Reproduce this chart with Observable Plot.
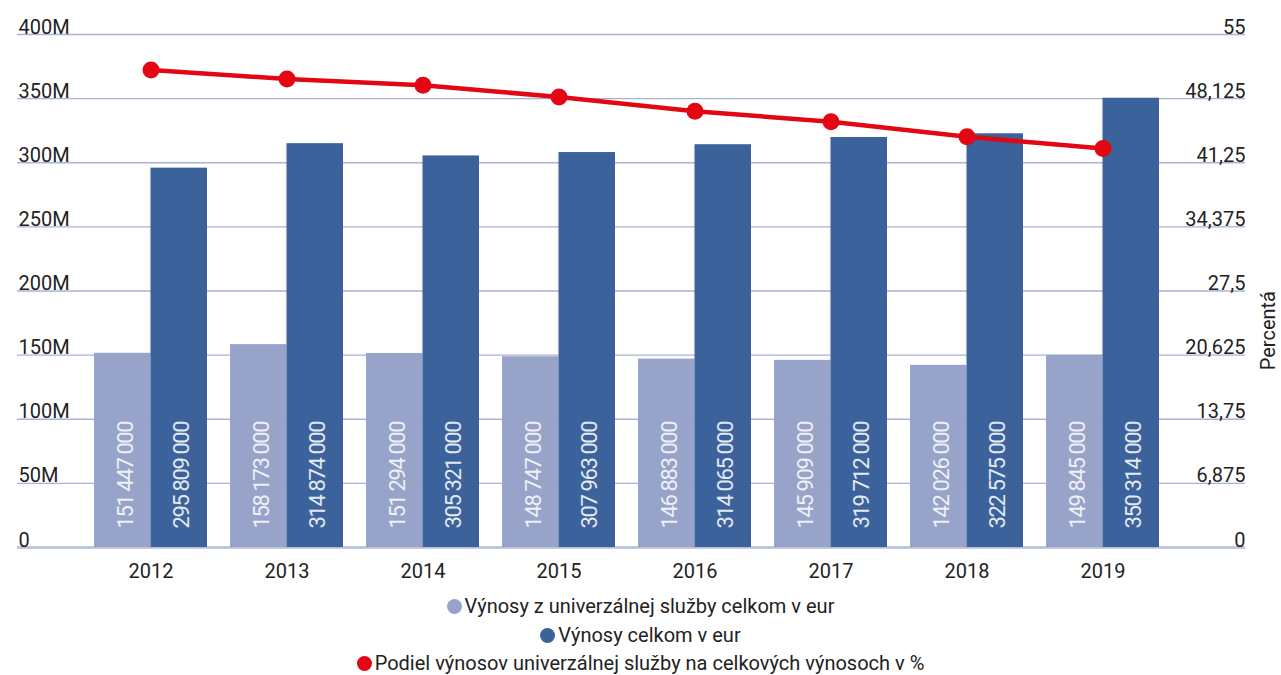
<!DOCTYPE html>
<html>
<head>
<meta charset="utf-8">
<script src="https://cdn.jsdelivr.net/npm/d3@7"></script>
<script src="https://cdn.jsdelivr.net/npm/@observablehq/plot@0.6"></script>
<style>
  html, body { margin: 0; padding: 0; background: #fff; }
  #chart { width: 1281px; }
  .legend { font-family: Roboto, sans-serif; font-size: 20px; color: #222; text-align: center; }
  .legend .row { height: 28.5px; line-height: 28.5px; white-space: nowrap; }
  .legend .sw { display: inline-block; width: 15px; height: 15px; border-radius: 50%; vertical-align: -1px; margin-right: 3px; }
  .barlabel text { letter-spacing: -1.4px; }
</style>
</head>
<body>
<div id="chart"></div>
<script>
// ---- data ----
const years = ["2012", "2013", "2014", "2015", "2016", "2017", "2018", "2019"];
const usRevenue = [151447000, 158173000, 151294000, 148747000, 146883000, 145909000, 142026000, 149845000];
const totalRevenue = [295809000, 314874000, 305321000, 307963000, 314065000, 319712000, 322575000, 350314000];
const sharePct = [51.2, 50.23, 49.55, 48.3, 46.77, 45.64, 44.03, 42.77];

const leftTicks = [0, 50e6, 100e6, 150e6, 200e6, 250e6, 300e6, 350e6, 400e6];
const leftTickLabels = ["0", "50M", "100M", "150M", "200M", "250M", "300M", "350M", "400M"];
const rightTicks = [0, 6.875, 13.75, 20.625, 27.5, 34.375, 41.25, 48.125, 55];
const rightTickLabels = ["0", "6,875", "13,75", "20,625", "27,5", "34,375", "41,25", "48,125", "55"];

const seriesNames = [
  "Výnosy z univerzálnej služby celkom v eur",
  "Výnosy celkom v eur",
  "Podiel výnosov univerzálnej služby na celkových výnosoch v %"
];
const colors = ["#97a3c8", "#3b629b", "#e30613"];

// ---- build ----
const yMax = 400e6, pMax = 55;
const toY = p => p * yMax / pMax;
const rows = years.map((y, i) => ({year: y, us: usRevenue[i], total: totalRevenue[i], pct: sharePct[i]}));
const fmt = d3.formatLocale({decimal: ",", thousands: " ", grouping: [3]}).format(",d");
const rightMap = new Map(rightTicks.map((t, i) => [toY(t), rightTickLabels[i]]));
const leftMap = new Map(leftTicks.map((t, i) => [t, leftTickLabels[i]]));

const W = 1281, H = 592;
const half = 56.5;

const chart = Plot.plot({
  width: W, height: H,
  marginLeft: 17, marginRight: 36, marginTop: 34, marginBottom: 45,
  style: {fontFamily: "Roboto, sans-serif", fontSize: "20px", color: "#222", background: "#fff"},
  x: {domain: years, range: [93.5, 1159.2], paddingInner: 0.17, paddingOuter: 0, label: null},
  y: {domain: [0, yMax], label: null},
  marks: [
    Plot.ruleY(leftTicks, {y: d => d, stroke: "#a9b3d4", strokeWidth: 1.3}),
    Plot.ruleY([0], {stroke: "#b9c1dc", strokeWidth: 2.5}),
    Plot.barY(rows, {x: "year", y: "us", fill: colors[0], insetRight: half}),
    Plot.barY(rows, {x: "year", y: "total", fill: colors[1], insetLeft: half}),
    Plot.text(rows, {x: "year", y: 0, text: d => fmt(d.us), rotate: -90, textAnchor: "start", dx: -25, dy: -19,
      fill: "#eef0f6", fontSize: 22, className: "barlabel"}),
    Plot.text(rows, {x: "year", y: 0, text: d => fmt(d.total), rotate: -90, textAnchor: "start", dx: 31, dy: -19,
      fill: "#e3e8f1", fontSize: 22, className: "barlabel"}),
    Plot.line(rows, {x: "year", y: d => toY(d.pct), stroke: colors[2], strokeWidth: 4.5}),
    Plot.dot(rows, {x: "year", y: d => toY(d.pct), r: 8.5, fill: colors[2]}),
    Plot.axisY({anchor: "left", ticks: leftTicks, tickFormat: d => leftMap.get(d), tickSize: 0, tickPadding: 0,
      textAnchor: "start", dx: 1, dy: -1, lineAnchor: "bottom", label: null, fill: "#222"}),
    Plot.axisY({anchor: "right", ticks: rightTicks.map(toY), tickFormat: d => rightMap.get(d), tickSize: 0, tickPadding: 0,
      textAnchor: "end", dx: 0, dy: -1, lineAnchor: "bottom", label: null, fill: "#222"}),
    Plot.axisX({tickSize: 0, tickPadding: 16, label: null, fill: "#222"}),
    Plot.text(["Percentá"], {text: d => d, frameAnchor: "right", rotate: -90, dx: 23, fill: "#222"})
  ]
});
document.getElementById("chart").appendChild(chart);

const legend = document.createElement("div");
legend.className = "legend";
seriesNames.forEach((name, i) => {
  const row = document.createElement("div");
  row.className = "row";
  const sw = document.createElement("span");
  sw.className = "sw";
  sw.style.background = colors[i];
  row.appendChild(sw);
  row.appendChild(document.createTextNode(name));
  legend.appendChild(row);
});
document.getElementById("chart").appendChild(legend);
</script>
</body>
</html>
